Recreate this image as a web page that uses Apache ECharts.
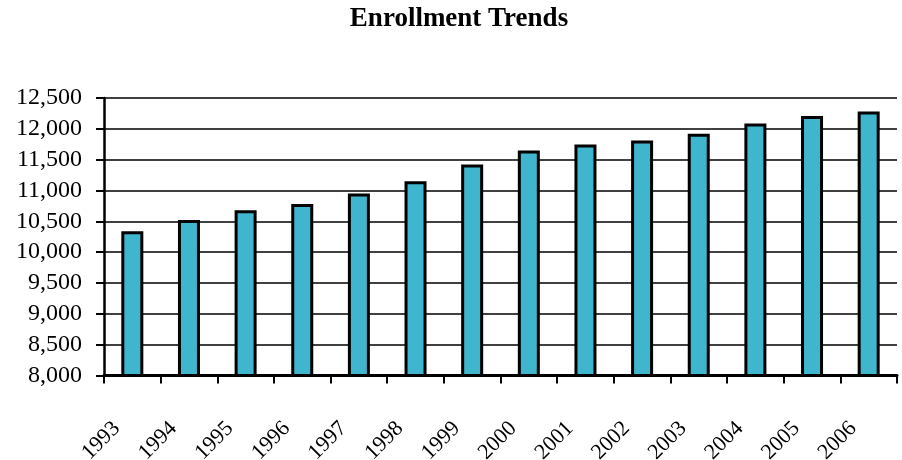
<!DOCTYPE html>
<html>
<head>
<meta charset="utf-8">
<script src="https://cdn.jsdelivr.net/npm/echarts@6/dist/echarts.min.js"></script>
<style>
  html, body { margin: 0; padding: 0; background: #fff; }
  #chart { width: 902px; height: 460px; }
</style>
</head>
<body>
<div id="chart"></div>
<script>
// Annual enrollment, 1993-2006
const years = ['1993', '1994', '1995', '1996', '1997', '1998', '1999',
               '2000', '2001', '2002', '2003', '2004', '2005', '2006'];
const enrollment = [10340, 10520, 10680, 10780, 10950, 11150, 11420,
                    11650, 11745, 11810, 11920, 12085, 12210, 12280];
const yMin = 8000;
const yMax = 12500;
const yStep = 500;

const serif = '"Liberation Serif", "Times New Roman", serif';

const chart = echarts.init(document.getElementById('chart'), null, { renderer: 'canvas' });

chart.setOption({
  animation: false,
  backgroundColor: '#ffffff',
  title: {
    text: 'Enrollment Trends',
    left: 454,
    textAlign: 'center',
    top: 1,
    textStyle: { fontFamily: serif, fontSize: 27, fontWeight: 'bold', color: '#000' }
  },
  grid: {
    left: 104, right: 5, top: 98, bottom: 84.5,
    containLabel: false,
    outerBoundsMode: 'none'
  },
  xAxis: {
    type: 'category',
    data: years,
    boundaryGap: true,
    axisLine: { show: true, lineStyle: { color: '#000', width: 3 } },
    axisTick: { show: true, length: 8, lineStyle: { color: '#000', width: 2 } },
    axisLabel: {
      rotate: 45,
      margin: 34,
      padding: [0, 22, 0, 0],
      fontFamily: serif,
      fontSize: 22,
      color: '#000'
    },
    splitLine: { show: false }
  },
  yAxis: {
    type: 'value',
    min: yMin,
    max: yMax,
    interval: yStep,
    axisLine: { show: true, lineStyle: { color: '#000', width: 2.5 } },
    axisTick: { show: true, length: 8, lineStyle: { color: '#000', width: 2 } },
    axisLabel: {
      margin: 22,
      fontFamily: serif,
      fontSize: 24,
      color: '#000',
      formatter: v => v.toLocaleString('en-US')
    },
    splitLine: { show: true, lineStyle: { color: '#000', width: 1.5 } }
  },
  series: [{
    type: 'bar',
    data: enrollment,
    barWidth: 22,
    itemStyle: { color: '#3fb6ce', borderColor: '#000', borderWidth: 3 }
  }]
});
</script>
</body>
</html>
